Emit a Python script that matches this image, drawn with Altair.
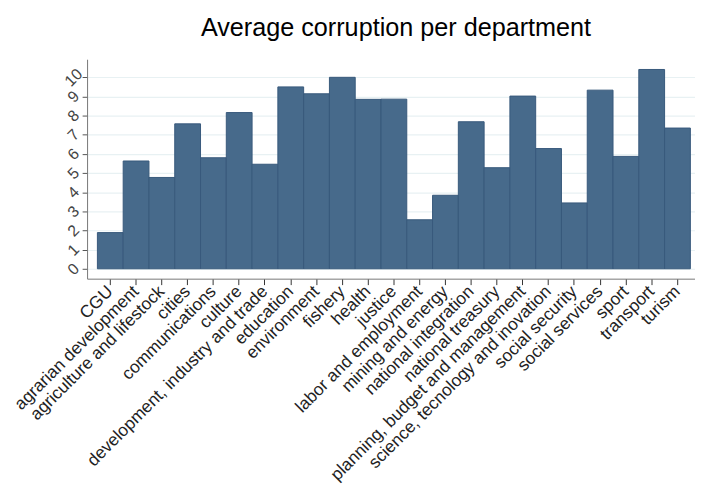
import altair as alt
import pandas as pd

departments = [
    "CGU", "agrarian development", "agriculture and lifestock", "cities",
    "communications", "culture", "development, industry and trade",
    "education", "environment", "fishery", "health", "justice",
    "labor and employment", "mining and energy", "national integration",
    "national treasury", "planning, budget and management",
    "science, tecnology and inovation", "social security",
    "social services", "sport", "transport", "turism",
]
corruption = [
    1.89, 5.63, 4.77, 7.57, 5.80, 8.16, 5.46, 9.50, 9.14, 10.0, 8.85, 8.86,
    2.56, 3.84, 7.68, 5.28, 9.02, 6.28, 3.44, 9.33, 5.87, 10.41, 7.35,
]
y_ticks = list(range(0, 11))

df = pd.DataFrame({"department": departments, "corruption": corruption})

FONT = "Liberation Sans"

chart = alt.Chart(df).mark_bar(
    color="#476a8b", stroke="#38597b", strokeWidth=1
).encode(
    x=alt.X(
        "department:N",
        sort=departments,
        scale=alt.Scale(paddingInner=0, paddingOuter=0.29, align=0.69),
        axis=alt.Axis(
            title=None, labelAngle=315, labelAlign="right", labelBaseline="middle",
            labelPadding=4, tickSize=6, labelFontSize=17.5, labelOverlap=False,
            labelLimit=400, labelColor="#222222", tickColor="#333333",
            domainColor="#777777", grid=False,
        ),
    ),
    y=alt.Y(
        "corruption:Q",
        scale=alt.Scale(domain=[-0.516, 10.945], nice=False, zero=False),
        axis=alt.Axis(
            title=None, values=y_ticks, labelAngle=315, labelAlign="center",
            labelBaseline="middle", labelPadding=9, tickSize=5, labelFontSize=16,
            labelOverlap=False, labelColor="#444444", tickColor="#555555",
            domainColor="#777777", grid=True, gridColor="#e8f1f3", gridWidth=1.2,
        ),
    ),
    y2=alt.datum(0),
).properties(
    width=615,
    height=222,
    title=alt.Title("Average corruption per department", fontSize=25.5,
                    font=FONT, fontWeight="normal", color="#000000", dx=5, offset=18),
    autosize=alt.AutoSizeParams(type="none"),
    padding={"left": 80, "top": 49, "right": 0, "bottom": 214},
).configure(
    font=FONT,
).configure_view(
    stroke=None,
).configure_axis(
    labelFont=FONT,
)

chart.save("out.html", embed_options={"renderer": "svg", "actions": False})
